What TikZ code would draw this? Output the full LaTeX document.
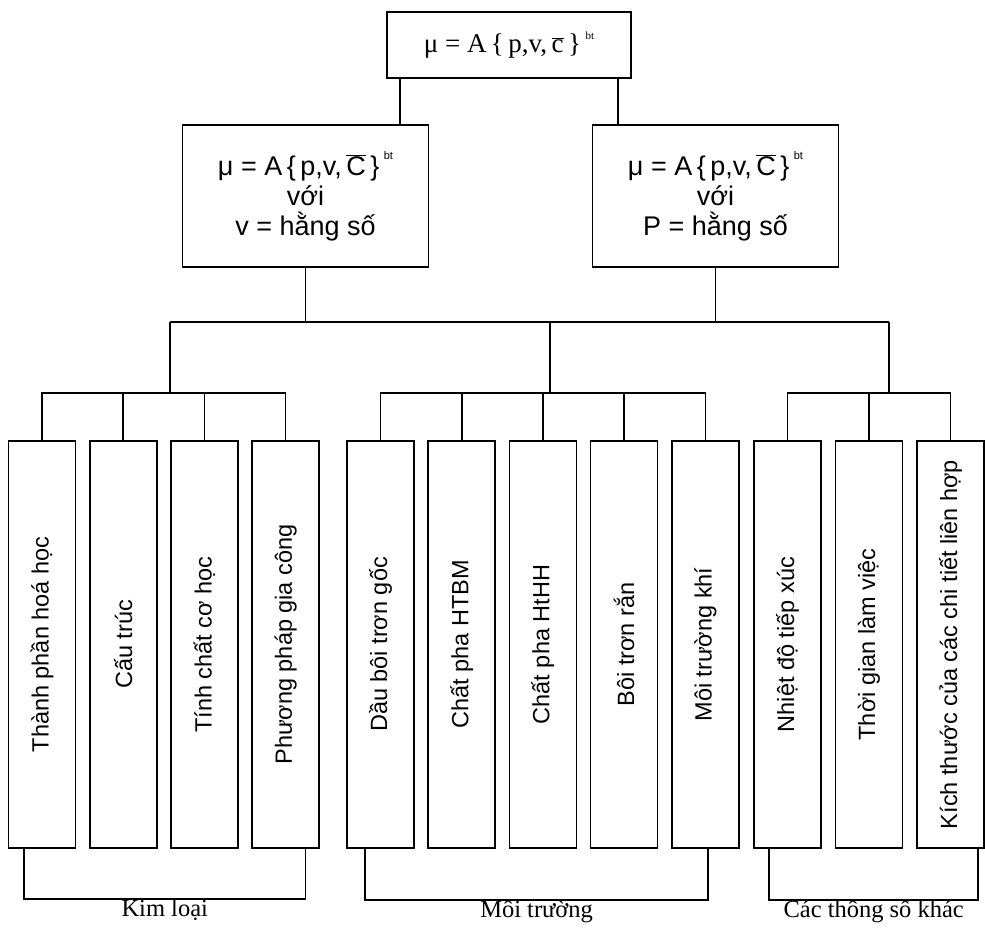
\documentclass[tikz,border=0pt]{standalone}
\usepackage{fontspec}
\setmainfont{Liberation Serif}
\setsansfont{Liberation Sans}
\begin{document}
\begin{tikzpicture}
[x=1pt,y=-1pt,line width=1.6pt,
rootbox/.style={draw,minimum width=244pt,minimum height=66pt,inner sep=0pt,font=\fontsize{27}{30}\selectfont},
condbox/.style={draw,minimum width=246pt,minimum height=142pt,inner sep=0pt,align=center,font=\sffamily\fontsize{27}{30}\selectfont},
factor/.style={draw,minimum width=67pt,minimum height=407pt,inner sep=0pt,font=\sffamily\fontsize{23.5}{26}\selectfont},
grouplabel/.style={font=\fontsize{24.5}{26}\selectfont,anchor=base,yshift=-18pt}]
\useasboundingbox (0,0) rectangle (985,927);
%root
	\node[rootbox] (root) at (509,45) {μ = A\,\{\,p,v,\,$\overline{\mbox{c}}$\,\}\,\raisebox{1.1ex}{\fontsize{11}{11}\selectfont bt}};
%v = const, P = const
	\node[condbox] (vconst) at (305.5,196) {μ = A\,\{\,p,v,\,$\overline{\mbox{C}}$\,\}\,\raisebox{1.1ex}{\fontsize{11}{11}\selectfont bt}\\với\\v = hằng số};
	\node[condbox] (pconst) at (715.5,196) {μ = A\,\{\,p,v,\,$\overline{\mbox{C}}$\,\}\,\raisebox{1.1ex}{\fontsize{11}{11}\selectfont bt}\\với\\P = hằng số};
	\coordinate (rl) at ([xshift=14pt]root.south west);
	\coordinate (rr) at ([xshift=-14pt]root.south east);
	\draw (rl) -- (rl |- vconst.north);
	\draw (rr) -- (rr |- pconst.north);
%factors
\foreach \n / \x / \t in {1/42/Thành phần hoá học,2/123.2/Cấu trúc,3/204.4/Tính chất cơ học,4/285.6/Phương pháp gia công,
	5/380.5/Dầu bôi trơn gốc,6/461.7/Chất pha HTBM,7/542.9/Chất pha HtHH,8/624.1/Bôi trơn rắn,9/705.3/Môi trường khí,
	10/787.5/Nhiệt độ tiếp xúc,11/869/Thời gian làm việc,12/950.5/Kích thước của các chi tiết liên hợp}
{
	\node[factor] (f\n) at (\x,644.5) {\rotatebox{90}{\t}};
}
%bus
	\coordinate (busl) at (170,322);
	\coordinate (busr) at (889,322);
	\coordinate (j1) at (170,393);
	\coordinate (j2) at (550,393);
	\coordinate (j3) at (889,393);
	\draw (busl) -- (busr);
	\draw (vconst.south) -- (vconst.south |- busl);
	\draw (pconst.south) -- (pconst.south |- busl);
	\draw (busl) -- (j1);
	\draw (j2 |- busl) -- (j2);
	\draw (busr) -- (j3);
%group bars
	\draw (f1.north) |- (f4.north |- j1) -- (f4.north);
	\draw (f5.north) |- (f9.north |- j1) -- (f9.north);
	\draw (f10.north) |- (f12.north |- j1) -- (f12.north);
\foreach \n in {2,3,6,7,8,11}
{
	\draw (f\n.north) -- (f\n.north |- j1);
}
%brackets
	\draw ([xshift=16.5pt]f1.south west) -- ++(0,50) -| node[grouplabel,pos=0.25] (metal) {Kim loại} ([xshift=54pt]f4.south west);
	\draw ([xshift=19pt]f5.south west) -- ++(0,51) -| node[grouplabel,pos=0.25] (medium) {Môi trường} ([xshift=37pt]f9.south west);
	\draw ([xshift=16pt]f10.south west) -- ++(0,51) -| node[grouplabel,pos=0.25] (other) {Các thông số khác} ([xshift=62pt]f12.south west);
\end{tikzpicture}
\end{document}
